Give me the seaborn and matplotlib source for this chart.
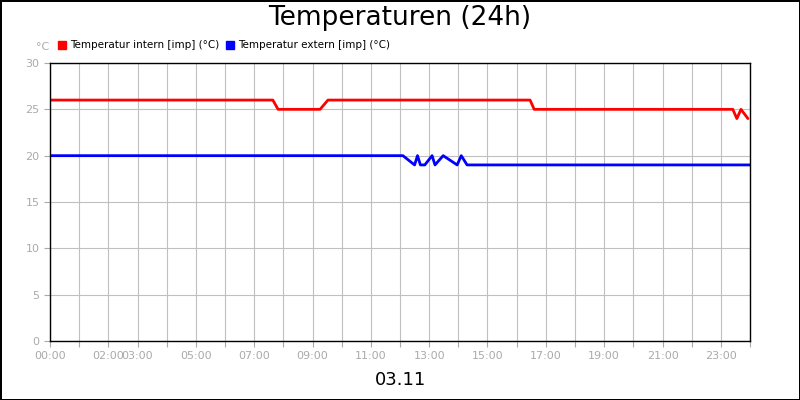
import numpy as np
import pandas as pd
import matplotlib
matplotlib.use('Agg')
import matplotlib.pyplot as plt
import seaborn as sns

# hours (decimal) and values
hours_intern = [0, 7.64, 7.82, 9.26, 9.53, 16.46, 16.6, 23.41, 23.55, 23.69, 23.93]
temp_intern = [26, 26, 25, 25, 26, 26, 25, 25, 24, 25, 24]
hours_extern = [0, 12.1, 12.5, 12.6, 12.7, 12.85, 13.1, 13.2, 13.48, 13.96, 14.1, 14.3, 24]
temp_extern = [20, 20, 19, 20, 19, 19, 20, 19, 20, 19, 20, 19, 19]
tick_hours = [0, 2, 3, 5, 7, 9, 11, 13, 15, 17, 19, 21, 23]

sns.set_style('white')
plt.rcParams['font.family'] = ['DejaVu Sans']

fig = plt.figure(figsize=(8, 4), dpi=100)
fig.patch.set_edgecolor('black')
fig.patch.set_linewidth(2)
ax = fig.add_axes([0.0625, 0.1475, 0.875, 0.695])

df_i = pd.DataFrame({'h': hours_intern, 't': temp_intern})
df_e = pd.DataFrame({'h': hours_extern, 't': temp_extern})
sns.lineplot(data=df_i, x='h', y='t', color='#ff0000', lw=2, ax=ax)
sns.lineplot(data=df_e, x='h', y='t', color='#0000ff', lw=2, ax=ax)

ax.set_xlim(0, 24)
ax.set_ylim(0, 30)
ax.set_xticks(range(0, 25))
ax.set_xticklabels(['' if h not in tick_hours else '%02d:00' % h for h in range(0, 25)])
ax.set_yticks(range(0, 31, 5))
ax.grid(True, color='#c0c0c0', lw=0.8)
ax.tick_params(axis='both', colors='#aaaaaa', labelsize=8, length=4, direction='out')
ax.tick_params(axis='both', bottom=True, left=True)
for s in ax.spines.values():
    s.set_color('black')
    s.set_linewidth(1)
ax.set_xlabel('')
ax.set_ylabel('')

fig.text(0.5, 0.955, 'Temperaturen (24h)', ha='center', va='center', fontsize=19, color='black')
fig.text(0.5, 0.05, '03.11', ha='center', va='center', fontsize=13, color='black')
fig.text(0.045, 0.882, '°C', ha='left', va='center', fontsize=8, color='#aaaaaa')
fig.patches.append(plt.Rectangle((0.073, 0.8775), 0.01, 0.02, color='#ff0000', transform=fig.transFigure, figure=fig))
fig.text(0.087, 0.888, 'Temperatur intern [imp] (°C)', ha='left', va='center', fontsize=7.5, color='black')
fig.patches.append(plt.Rectangle((0.283, 0.8775), 0.01, 0.02, color='#0000ff', transform=fig.transFigure, figure=fig))
fig.text(0.297, 0.888, 'Temperatur extern [imp] (°C)', ha='left', va='center', fontsize=7.5, color='black')

fig.savefig('out.png', dpi=100, edgecolor=fig.get_edgecolor())
